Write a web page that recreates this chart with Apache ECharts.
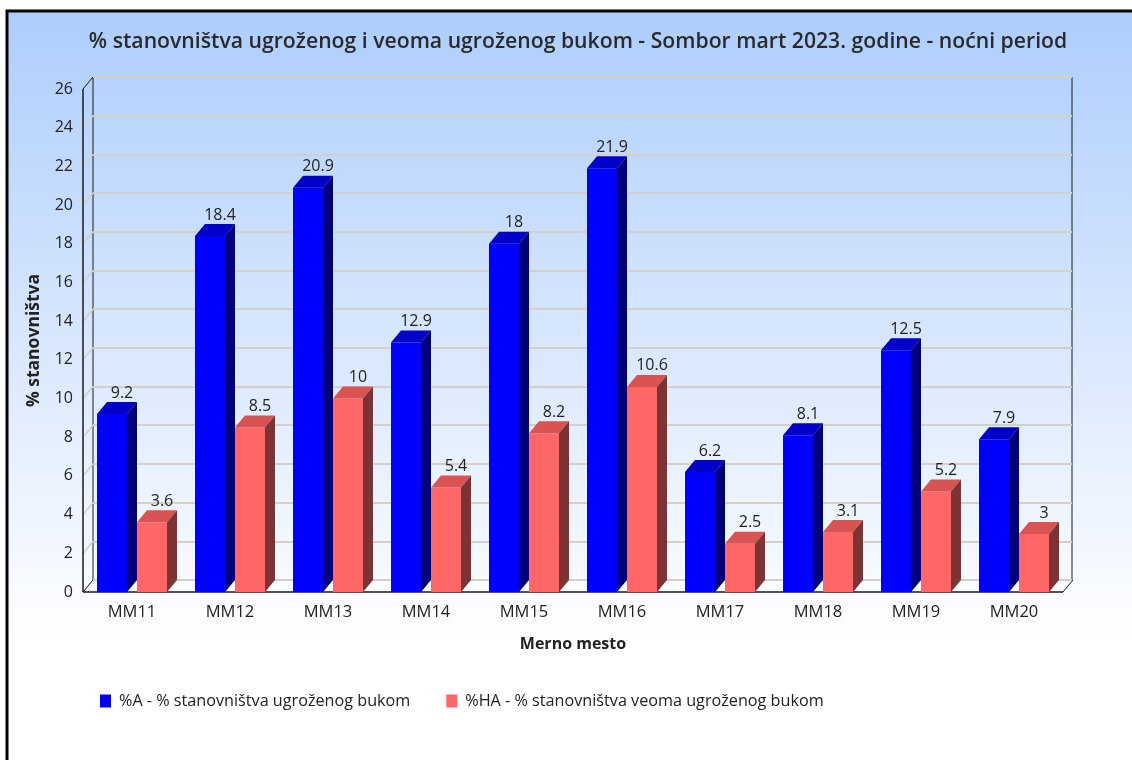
<!DOCTYPE html>
<html>
<head>
<meta charset="utf-8">
<title>Sombor mart 2023 - noćni period</title>
<script src="https://cdn.jsdelivr.net/npm/echarts@6/dist/echarts.min.js"></script>
<style>
  html, body { margin: 0; padding: 0; background: #fff; }
  #chart { width: 1132px; height: 760px; }
</style>
</head>
<body>
<div id="chart"></div>
<script>
// Measuring points
const categories = ['MM11', 'MM12', 'MM13', 'MM14', 'MM15', 'MM16', 'MM17', 'MM18', 'MM19', 'MM20'];
// %A - share of population annoyed by noise
const valuesA = [9.2, 18.4, 20.9, 12.9, 18, 21.9, 6.2, 8.1, 12.5, 7.9];
// %HA - share of population highly annoyed by noise
const valuesHA = [3.6, 8.5, 10, 5.4, 8.2, 10.6, 2.5, 3.1, 5.2, 3];
// Value axis range
const yMin = 0;
const yMax = 26;
const yStep = 2;

const nameA = '%A - % stanovništva ugroženog bukom';
const nameHA = '%HA - % stanovništva veoma ugroženog bukom';

const FONT = '"Open Sans", "Noto Sans", sans-serif';
const TEXT = '#222';
// depth of the pseudo-3D extrusion, in pixels
const DX = 10;
const DY = 12;

const colorsA = { front: '#0000ff', top: '#0000c8', side: '#00007a' };
const colorsHA = { front: '#ff6666', top: '#d95353', side: '#7d3333' };

function bar3d(side, colors) {
  return function (params, api) {
    const idx = api.value(0);
    const val = api.value(1);
    const top = api.coord([idx, val]);
    const base = api.coord([idx, 0]);
    const band = api.size([1, 0])[0];
    const w = band * 0.306;
    const halfGap = band * 0.051;
    const x = side < 0 ? top[0] - halfGap - w : top[0] + halfGap;
    const yT = top[1];
    const yB = base[1];
    return {
      type: 'group',
      children: [
        {
          type: 'rect',
          shape: { x: x, y: yT, width: w, height: yB - yT },
          style: { fill: colors.front }
        },
        {
          type: 'polygon',
          shape: { points: [[x, yT], [x + DX, yT - DY], [x + w + DX, yT - DY], [x + w, yT]] },
          style: { fill: colors.top }
        },
        {
          type: 'polygon',
          shape: { points: [[x + w, yT], [x + w + DX, yT - DY], [x + w + DX, yB - DY], [x + w, yB]] },
          style: { fill: colors.side }
        },
        {
          type: 'text',
          style: {
            text: String(val),
            x: x + w / 2 + DX,
            y: yT - DY - 1,
            align: 'center',
            verticalAlign: 'bottom',
            fill: TEXT,
            fontSize: 16,
            fontFamily: FONT
          }
        }
      ]
    };
  };
}

// Front edges of the box plus the slanted tick stubs on the left wall
function frame(params, api) {
  const cs = params.coordSys;
  const left = cs.x, right = cs.x + cs.width;
  const bottom = api.coord([0, yMin])[1];
  const topY = api.coord([0, yMax])[1];
  const children = [];
  const line = (x1, y1, x2, y2, stroke, lw) => children.push({
    type: 'line',
    shape: { x1: x1, y1: y1, x2: x2, y2: y2 },
    style: { stroke: stroke, lineWidth: lw }
  });
  for (let v = yMin + yStep; v < yMax; v += yStep) {
    const y = api.coord([0, v])[1];
    line(left, y, left + DX, y - DY, '#d4cfc8', 1.5);
  }
  line(left, topY, left, bottom, '#1a1a1a', 1.5);
  line(left, topY, left + DX, topY - DY, '#1a1a1a', 1);
  line(left, bottom, right, bottom, '#1a1a1a', 1.5);
  line(left, bottom, left + DX, bottom - DY, '#1a1a1a', 1);
  line(right, bottom, right + DX, bottom - DY, '#1a1a1a', 1);
  return { type: 'group', children: children };
}

const chart = echarts.init(document.getElementById('chart'), null, { renderer: 'canvas' });

chart.setOption({
  animation: false,
  backgroundColor: '#ffffff',
  graphic: [
    {
      type: 'rect',
      z: -10,
      silent: true,
      shape: { x: 7, y: 11, width: 1140, height: 770 },
      style: {
        fill: new echarts.graphic.LinearGradient(0, 0, 0, 1, [
          { offset: 0, color: '#adcdfc' },
          { offset: 0.82, color: '#ffffff' },
          { offset: 1, color: '#ffffff' }
        ]),
        stroke: '#000',
        lineWidth: 3
      }
    }
  ],
  title: {
    text: '% stanovništva ugroženog i veoma ugroženog bukom - Sombor mart 2023. godine - noćni period',
    left: 573,
    top: 26,
    textAlign: 'center',
    textStyle: { fontFamily: FONT, fontSize: 21.2, fontWeight: 600, color: '#2a2a2a' }
  },
  legend: {
    left: 95,
    top: 688,
    itemWidth: 11,
    itemHeight: 13,
    itemGap: 36,
    icon: 'rect',
    textStyle: { fontFamily: FONT, fontSize: 16.2, color: TEXT, padding: [0, 0, 0, 3] },
    data: [nameA, nameHA]
  },
  grid: [
    { left: 83, top: 89, right: 69, bottom: 168 },
    {
      left: 93, top: 77, right: 60, bottom: 180,
      show: true, borderColor: '#1a1a1a', borderWidth: 1, backgroundColor: 'transparent'
    }
  ],
  xAxis: [
    {
      type: 'category',
      gridIndex: 0,
      data: categories,
      axisLine: { show: false },
      axisTick: { show: false },
      axisLabel: { fontFamily: FONT, fontSize: 16.5, color: TEXT, margin: 12 },
      name: 'Merno mesto',
      nameLocation: 'middle',
      nameGap: 44,
      nameTextStyle: { fontFamily: FONT, fontSize: 16, fontWeight: 'bold', color: TEXT }
    },
    {
      type: 'category',
      gridIndex: 1,
      data: categories,
      show: false
    }
  ],
  yAxis: [
    {
      type: 'value',
      gridIndex: 0,
      min: yMin,
      max: yMax,
      interval: yStep,
      axisLine: { show: false },
      axisTick: { show: false },
      splitLine: { show: false },
      axisLabel: { fontFamily: FONT, fontSize: 16, color: TEXT, margin: 10 },
      name: '% stanovništva',
      nameLocation: 'middle',
      nameRotate: 90,
      nameGap: 40,
      nameTextStyle: { fontFamily: FONT, fontSize: 17.5, fontWeight: 'bold', color: TEXT }
    },
    {
      type: 'value',
      gridIndex: 1,
      min: yMin,
      max: yMax,
      interval: yStep,
      axisLine: { show: false },
      axisTick: { show: false },
      axisLabel: { show: false },
      splitLine: { show: true, lineStyle: { color: '#d4cfc8', width: 2 } }
    }
  ],
  series: [
    {
      type: 'custom',
      name: 'frame',
      xAxisIndex: 0,
      yAxisIndex: 0,
      silent: true,
      z: 1,
      renderItem: frame,
      data: [[0, 0]]
    },
    {
      type: 'custom',
      name: nameA,
      xAxisIndex: 0,
      yAxisIndex: 0,
      z: 3,
      itemStyle: { color: colorsA.front },
      renderItem: bar3d(-1, colorsA),
      data: valuesA.map((v, i) => [i, v])
    },
    {
      type: 'custom',
      name: nameHA,
      xAxisIndex: 0,
      yAxisIndex: 0,
      z: 3,
      itemStyle: { color: colorsHA.front },
      renderItem: bar3d(1, colorsHA),
      data: valuesHA.map((v, i) => [i, v])
    }
  ]
});
</script>
</body>
</html>
